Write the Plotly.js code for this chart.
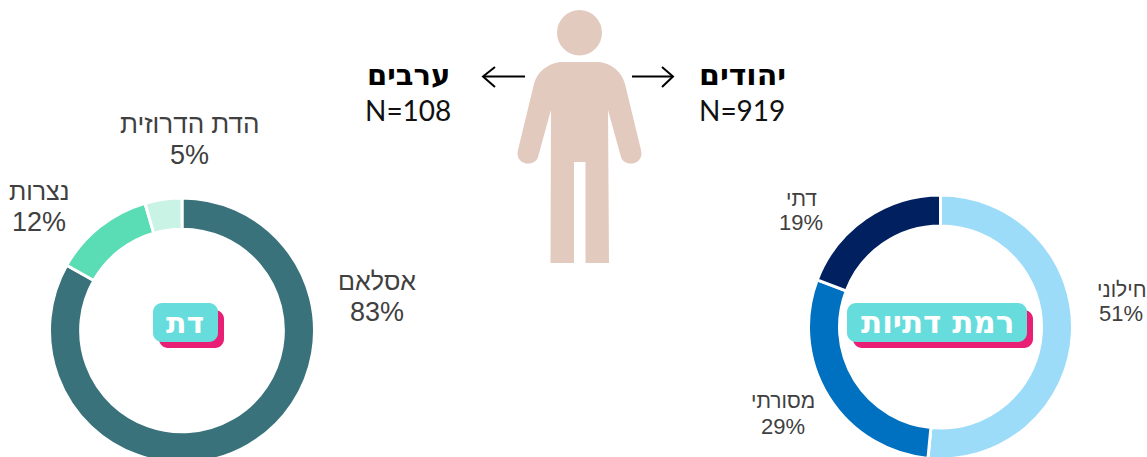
<!DOCTYPE html>
<html><head><meta charset="utf-8">
<script src="https://cdn.plot.ly/plotly-3.0.1.min.js"></script>
<style>html,body{margin:0;padding:0;background:#fff;overflow:hidden;width:1147px;height:457px}#c{width:1147px;height:470px}</style>
</head><body><div id="c"></div>
<script>
const W = 1147, H = 470;
const religionLabels = ['אסלאם', 'נצרות', 'הדת הדרוזית'];
const religionValues = [83.2, 12.3, 4.5];
const religionColors = ['#3A727B', '#5ADDB4', '#C8F3E5'];
const levelLabels = ['חילוני', 'מסורתי', 'דתי'];
const levelValues = [51, 29, 19];
const levelColors = ['#9CDCF9', '#0070C0', '#002060'];
const religionTitle = 'דת', levelTitle = 'רמת דתיות';
const arabsTitle = 'ערבים', arabsN = 'N=108', jewsTitle = 'יהודים', jewsN = 'N=919';

const px = x => x / W, py = y => 1 - y / H;
const P = (x, y) => px(x).toFixed(5) + ',' + py(y).toFixed(5);
const sans = 'Liberation Sans, Arial, sans-serif';
const heb = 'DejaVu Sans, sans-serif';

function pie(labels, values, colors, x0, x1, y0, y1) {
  return {type: 'pie', labels, values, sort: false, direction: 'clockwise', rotation: 0, hole: 0.765,
    textinfo: 'none', hoverinfo: 'label+percent', showlegend: false,
    marker: {colors, line: {color: '#ffffff', width: 3}},
    domain: {x: [px(x0), px(x1)], y: [py(y1), py(y0)]}};
}
function ann(x, y, text, size, color, bold, family) {
  return {xref: 'paper', yref: 'paper', x: px(x), y: py(y), xanchor: 'center', yanchor: 'middle', showarrow: false,
    text: bold ? '<b>' + text + '</b>' : text, font: {size, color, family: family || sans}};
}
function rrect(x0, y0, x1, y1, r, fill) {
  const k = r * 0.45;
  const d = 'M' + P(x0 + r, y0) + ' L' + P(x1 - r, y0) +
    ' C' + P(x1 - k, y0) + ' ' + P(x1, y0 + k) + ' ' + P(x1, y0 + r) +
    ' L' + P(x1, y1 - r) + ' C' + P(x1, y1 - k) + ' ' + P(x1 - k, y1) + ' ' + P(x1 - r, y1) +
    ' L' + P(x0 + r, y1) + ' C' + P(x0 + k, y1) + ' ' + P(x0, y1 - k) + ' ' + P(x0, y1 - r) +
    ' L' + P(x0, y0 + r) + ' C' + P(x0, y0 + k) + ' ' + P(x0 + k, y0) + ' ' + P(x0 + r, y0) + ' Z';
  return {type: 'path', xref: 'paper', yref: 'paper', path: d, fillcolor: fill, line: {width: 0}};
}
const skin = '#E3CABF';
const bodyPath = 'M' + P(560, 62) + ' L' + P(600, 62) +
  ' C' + P(612, 64) + ' ' + P(622, 72) + ' ' + P(625, 84) +
  ' L' + P(641, 150) + ' C' + P(643, 158) + ' ' + P(638, 163.5) + ' ' + P(631, 163.5) +
  ' C' + P(626, 163.5) + ' ' + P(622, 161) + ' ' + P(621, 157) +
  ' L' + P(608, 110) + ' L' + P(609, 263) + ' L' + P(585.5, 263) + ' L' + P(585.5, 162) +
  ' L' + P(574, 162) + ' L' + P(574, 263) + ' L' + P(550.5, 263) + ' L' + P(551, 110) +
  ' L' + P(538, 157) + ' C' + P(537, 161) + ' ' + P(533, 163.5) + ' ' + P(528, 163.5) +
  ' C' + P(521, 163.5) + ' ' + P(516, 158) + ' ' + P(518, 150) +
  ' L' + P(534, 84) + ' C' + P(537, 72) + ' ' + P(547, 64) + ' ' + P(560, 62) + ' Z';
const line = (pts) => ({type: 'path', xref: 'paper', yref: 'paper', path: 'M' + pts.map(p => P(p[0], p[1])).join(' L'),
  line: {color: '#000000', width: 2}, fillcolor: 'rgba(0,0,0,0)'});

const shapes = [
  {type: 'circle', xref: 'paper', yref: 'paper', x0: px(557), x1: px(602), y0: py(10), y1: py(55.5), fillcolor: skin, line: {width: 0}},
  {type: 'path', xref: 'paper', yref: 'paper', path: bodyPath, fillcolor: skin, line: {width: 0}},
  line([[525, 76.5], [483, 76.5]]), line([[495, 67], [483, 76.5], [495, 87]]),
  line([[632, 76.5], [673, 76.5]]), line([[662, 67], [673, 76.5], [662, 87]]),
  rrect(159, 310, 224, 348, 9, '#E91E75'), rrect(153, 303, 218, 342, 9, '#66DCDC'),
  rrect(853, 310, 1033, 348, 9, '#E91E75'), rrect(847, 303, 1027, 342, 9, '#66DCDC')
];
const pct = v => Math.round(v) + '%';
const annotations = [
  ann(408, 75, arabsTitle, 29, '#000', true, heb), ann(408, 110, arabsN, 28, '#111', false, 'Lato, sans-serif'),
  ann(742, 75, jewsTitle, 30, '#000', true, heb), ann(742, 110, jewsN, 28, '#111', false, 'Lato, sans-serif'),
  ann(377, 281, religionLabels[0], 25, '#404040'), ann(377, 312, pct(religionValues[0]), 27, '#404040'),
  ann(39, 191, religionLabels[1], 25, '#404040'), ann(39, 222, pct(religionValues[1]), 27, '#404040'),
  ann(189, 124, religionLabels[2], 26, '#404040'), ann(189, 155, pct(religionValues[2]), 27, '#404040'),
  ann(1122, 289, levelLabels[0], 21, '#404040'), ann(1121, 313, pct(levelValues[0]), 22, '#404040'),
  ann(783, 400, levelLabels[1], 21, '#404040'), ann(783, 426, pct(levelValues[1]), 22, '#404040'),
  ann(801, 198, levelLabels[2], 21, '#404040'), ann(801, 222, pct(levelValues[2]), 22, '#404040'),
  ann(185, 322, religionTitle, 30, '#ffffff', true, heb),
  ann(937, 322, levelTitle, 31, '#ffffff', true, heb)
];
Plotly.newPlot('c', [
  pie(religionLabels, religionValues, religionColors, 49.5, 314.5, 198, 463),
  pie(levelLabels, levelValues, levelColors, 808.5, 1072.5, 195, 459)
], {
  width: W, height: H, margin: {l: 0, r: 0, t: 0, b: 0}, paper_bgcolor: '#fff', plot_bgcolor: '#fff',
  shapes, annotations
}, {displayModeBar: false, staticPlot: true});
</script></body></html>
